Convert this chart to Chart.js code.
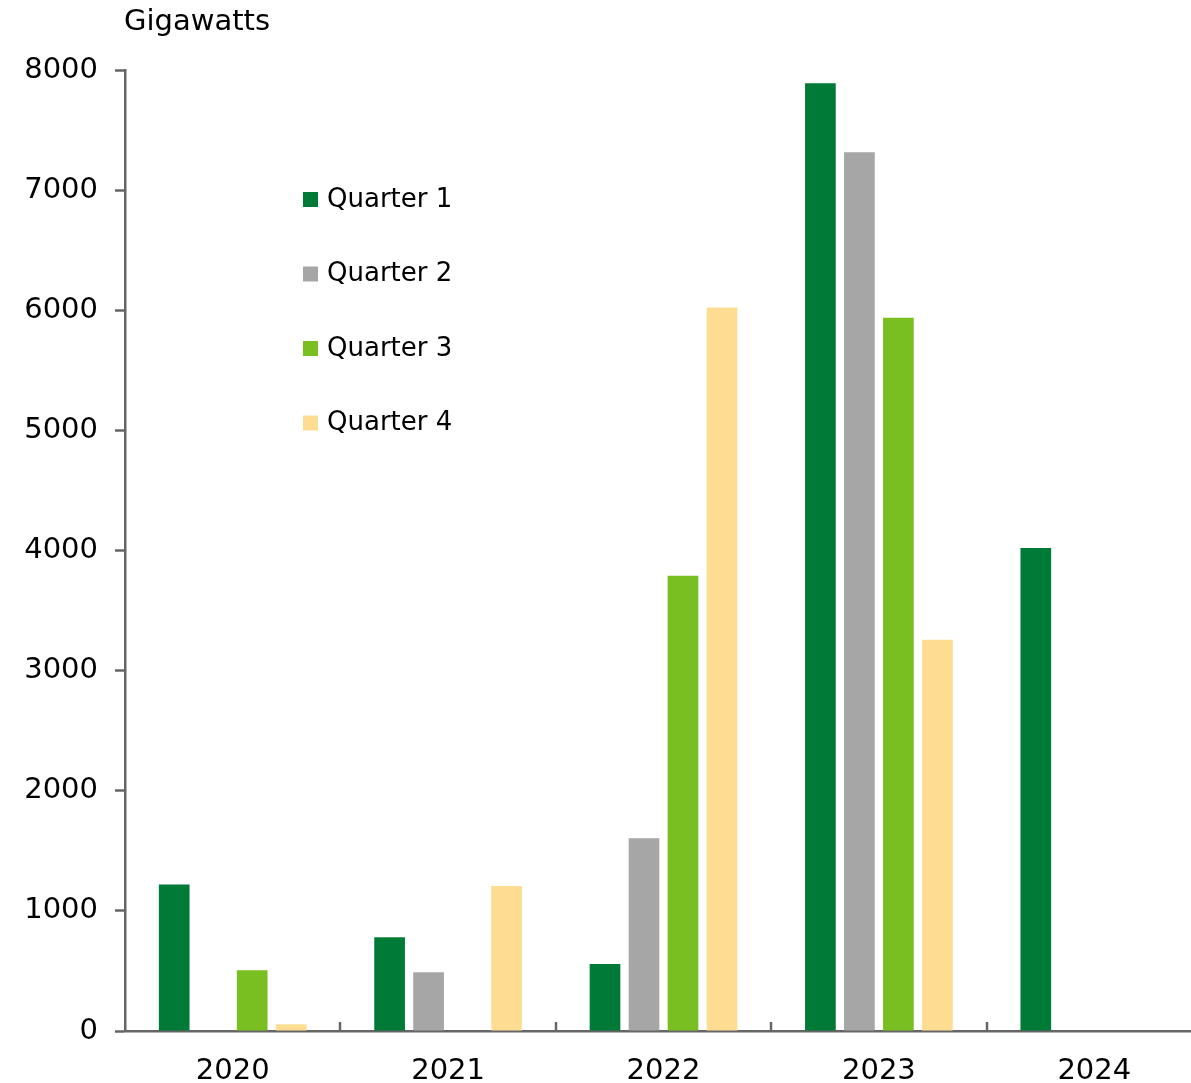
<!DOCTYPE html>
<html>
<head>
<meta charset="utf-8">
<script src="https://cdn.jsdelivr.net/npm/chart.js@4/dist/chart.umd.min.js"></script>
<style>
  html, body { margin: 0; padding: 0; background: #fff; overflow: hidden; }
  #wrap { width: 1191px; height: 1083px; overflow: hidden; position: relative; }
  canvas { position: absolute; left: 0; top: 0; }
</style>
</head>
<body>
<div id="wrap"><canvas id="c" width="1202" height="1083"></canvas></div>
<script>
const years = ['2020', '2021', '2022', '2023', '2024'];
const seriesNames = ['Quarter 1', 'Quarter 2', 'Quarter 3', 'Quarter 4'];
const quarter1 = [1220, 780, 558, 7890, 4020];
const quarter2 = [null, 490, 1604, 7316, null];
const quarter3 = [505, null, 3790, 5937, null];
const quarter4 = [56, 1207, 6022, 3256, null];
const yTicks = [0, 1000, 2000, 3000, 4000, 5000, 6000, 7000, 8000];
const unitLabel = 'Gigawatts';

const colors = ['#007B37', '#A6A6A6', '#7ABF22', '#FEDD93'];
const FONT = '"DejaVu Sans", sans-serif';
const AXIS = '#666666';
const TEXT = '#000000';

const overlay = {
  id: 'overlay',
  afterDraw(chart) {
    const ctx = chart.ctx;
    const ca = chart.chartArea;
    const xs = chart.scales.x;
    ctx.save();
    // inside tick marks on x axis at category boundaries
    ctx.strokeStyle = AXIS;
    ctx.lineWidth = 2.5;
    for (let i = 1; i < years.length; i++) {
      const x = Math.round((xs.getPixelForTick(i - 1) + xs.getPixelForTick(i)) / 2);
      ctx.beginPath();
      ctx.moveTo(x, ca.bottom);
      ctx.lineTo(x, ca.bottom - 9);
      ctx.stroke();
    }
    // unit label
    ctx.fillStyle = TEXT;
    ctx.font = '29px ' + FONT;
    ctx.textAlign = 'left';
    ctx.textBaseline = 'middle';
    ctx.fillText(unitLabel, ca.left - 1, 22);
    // legend
    ctx.font = '26px ' + FONT;
    chart.data.datasets.forEach((ds, i) => {
      const cy = 199 + i * 74.5;
      ctx.fillStyle = ds.backgroundColor;
      ctx.fillRect(303, cy - 7, 15, 15);
      ctx.fillStyle = TEXT;
      ctx.fillText(ds.label, 327, cy + 1);
    });
    ctx.restore();
  }
};

new Chart(document.getElementById('c'), {
  type: 'bar',
  data: {
    labels: years,
    datasets: [quarter1, quarter2, quarter3, quarter4].map((d, i) => ({
      label: seriesNames[i],
      data: d,
      backgroundColor: colors[i],
      borderWidth: 0,
      categoryPercentage: 0.7242,
      barPercentage: 0.787
    }))
  },
  options: {
    responsive: false,
    animation: false,
    layout: { padding: { top: 70, left: 0, right: 0, bottom: 0 } },
    plugins: { legend: { display: false }, tooltip: { enabled: false }, title: { display: false } },
    scales: {
      x: {
        grid: { display: false, drawOnChartArea: false, drawTicks: false },
        border: { display: true, color: AXIS, width: 2.5 },
        ticks: { color: TEXT, font: { family: FONT, size: 29 }, padding: 23, maxRotation: 0 },
        afterFit(s) { s.height = 52; }
      },
      y: {
        min: 0,
        max: 8000,
        afterBuildTicks(s) { s.ticks = yTicks.map(v => ({ value: v })); },
        grid: { display: true, drawOnChartArea: false, drawTicks: true, tickLength: 10, tickColor: AXIS, tickWidth: 2.5 },
        border: { display: true, color: AXIS, width: 2.5 },
        ticks: { color: TEXT, font: { family: FONT, size: 29 }, padding: 17, callback: v => String(v) },
        afterFit(s) { s.width = 125; }
      }
    }
  },
  plugins: [overlay]
});
</script>
</body>
</html>
